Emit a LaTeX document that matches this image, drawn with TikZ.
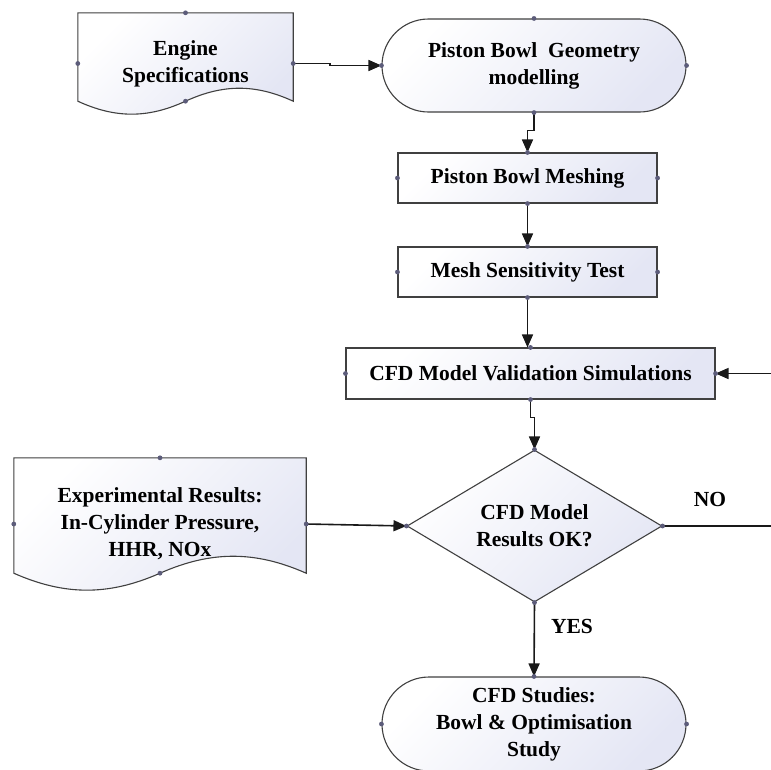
\documentclass[tikz,border=0pt]{standalone}
\usepackage{fontspec}
\setmainfont{Liberation Serif}
\usepackage{xcolor}
\usepackage{tikz}
\usetikzlibrary{arrows.meta}
\usetikzlibrary{shapes.geometric}
\usetikzlibrary{shapes.misc}
\usetikzlibrary{calc}
\usetikzlibrary{backgrounds}

\definecolor{shapefill}{RGB}{228,230,244}
\definecolor{pincol}{RGB}{92,92,122}
\definecolor{edgecol}{RGB}{64,64,64}

% wavy bottom document: node, half width, wave height
\newcommand{\wavedoc}[3]{%
  \draw[docline] (#1.north west) -- (#1.north east)
    -- ($(#1.south east)+(0,-#3)$)
    .. controls ($(#1.south east)+(-0.35*#2,-2.33*#3)$) and ($(#1.south)+(0.35*#2,-2.33*#3)$)
    .. ($(#1.south)+(0,-#3)$)
    .. controls ($(#1.south)+(-0.35*#2,0.33*#3)$) and ($(#1.south west)+(0.35*#2,0.33*#3)$)
    .. ($(#1.south west)+(0,-#3)$) -- cycle;
}
% connection points
\newcommand{\pins}[2]{%
  \foreach \a in {#2} {\fill[pincol] (#1.\a) circle (2.4pt);}
}

\begin{document}
\begin{tikzpicture}[
        x=1pt, y=-1pt,
        every node/.style={font=\bfseries\fontsize{21.5}{27}\selectfont, align=center, inner sep=0pt},
        shapeshade/.style={top color=white, bottom color=shapefill, shading angle=45},
        docline/.style={draw=edgecol, line width=1.1pt, shapeshade},
        doc/.style={draw=none},
        procbox/.style={rectangle, draw=edgecol, line width=1.1pt, shapeshade},
        termbox/.style={rounded rectangle, draw=edgecol, line width=1.1pt, shapeshade, minimum width=304pt},
        decbox/.style={diamond, draw=edgecol, line width=1.1pt, shapeshade, aspect=1.68},
        conn/.style={draw=black!90, line width=1.6pt, -{Triangle[length=13pt,width=11pt]}},
        link/.style={draw=black!90, line width=1.6pt}
        ]
        \useasboundingbox (0,0) rectangle (771,769);
        \clip (0,0) rectangle (771,769);

        % inputs
        \node[doc, minimum width=215pt, minimum height=101pt] (spec) at (185.5,63.5) {Engine\\Specifications};
        \node[doc, minimum width=292pt, minimum height=132pt] (exper) at (160,524) {Experimental Results:\\In-Cylinder Pressure,\\HHR, NOx};
        \begin{pgfonlayer}{background}
          \wavedoc{spec}{107.5}{13}
          \wavedoc{exper}{146}{17}
        \end{pgfonlayer}

        % main flow
        \node[termbox, minimum height=93pt] (geom) at (534,65.5) {Piston Bowl\ \ Geometry\\modelling};
        \node[procbox, minimum width=259pt, minimum height=50pt] (mesh) at (527.5,178) {Piston Bowl Meshing};
        \node[procbox, minimum width=259pt, minimum height=50pt] (sens) at (527.5,272) {Mesh Sensitivity Test};
        \node[procbox, minimum width=369pt, minimum height=51pt] (valid) at (530.5,373.5) {CFD Model Validation Simulations};
        \node[decbox, minimum width=255pt, minimum height=152pt] (dec) at (534.5,526) {CFD Model\\Results OK?};
        \node[termbox, minimum height=94pt] (study) at (534,724) {CFD Studies:\\Bowl \& Optimisation\\Study};

        \coordinate (loop) at (800,450);

        % connectors
        \draw[conn] (spec.east) -- ++(37,0) |- (geom.west);
        \draw[conn] (geom.south) -- ++(0,18) -| (mesh.north);
        \draw[conn] (mesh.south) -- (sens.north);
        \draw[conn] (sens.south) -- (sens.south |- valid.north);
        \draw[conn] (valid.south) -- ++(0,18) -| (dec.north);
        \draw[conn] (exper.east) -- (dec.west);
        \draw[conn] (dec.south) -- (study.north);
        \draw[link] (dec.east) -- (dec.east -| loop) -- (valid.east -| loop);
        \draw[conn] (valid.east -| loop) -- (valid.east);

        \node (no) at (710,499) {NO};
        \node (yes) at (572,626) {YES};

        % connection points
        \pins{spec}{north,east,west}
        \fill[pincol] ($(spec.south)+(0,-13)$) circle (2.4pt);
        \pins{exper}{north,east,west}
        \fill[pincol] ($(exper.south)+(0,-17)$) circle (2.4pt);
        \pins{geom}{north,south,east,west}
        \pins{mesh}{north,south,east,west}
        \pins{sens}{north,south,east,west}
        \pins{valid}{north,south,east,west}
        \pins{dec}{north,south,east,west}
        \pins{study}{north,east,west}
\end{tikzpicture}
\end{document}
